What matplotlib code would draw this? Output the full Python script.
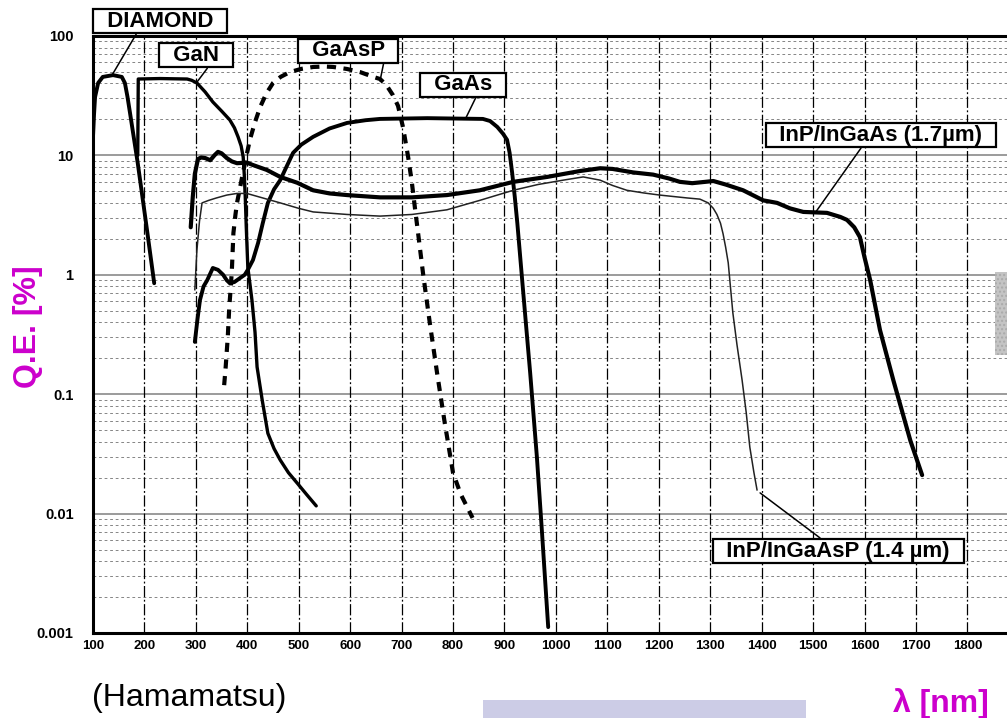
import numpy as np
import matplotlib
matplotlib.use("Agg")
import matplotlib.pyplot as plt
from matplotlib.patches import Rectangle

plt.rcParams['font.family'] = ['Liberation Sans', 'DejaVu Sans']

# wavelengths [nm] and Q.E. [%]
diamond_wl = [100, 102, 104, 110, 119, 139, 156, 162, 167, 172, 187, 205, 219]
diamond_qe = [14.3, 22, 30.8, 40.4, 45.4, 47, 45.4, 40.4, 31, 22.6, 8.6, 2.37, 0.85]

gan_wl = [187, 188, 230, 283, 292, 302, 318, 333, 350, 366, 375, 382, 388, 392, 394, 396, 398,
          401, 409, 415, 419, 429, 440, 452, 464, 480, 497, 515, 534]
gan_qe = [10, 43.6, 44, 43.6, 42.5, 40.4, 34, 28, 23.5, 19.8, 17, 14.3, 12, 9.7, 7, 4.5, 2.5,
          1.16, 0.615, 0.33, 0.169, 0.089, 0.047, 0.035, 0.0281, 0.022, 0.018, 0.0145, 0.0116]

gaasp_wl = [355, 358, 362, 365, 368, 370, 373, 377, 380, 386, 395, 405, 415, 425, 437, 450, 465,
            483, 505, 528, 550, 567, 594, 619, 645, 658, 670, 683, 693, 703, 713, 720, 726, 732,
            742, 755, 769, 784, 800, 815, 838]
gaasp_qe = [0.119, 0.17, 0.3, 0.54, 0.8, 1.1, 2.24, 3.2, 4.0, 5.4, 8.5, 13.5, 19, 25.4, 33, 40.4, 45.5,
            49.9, 53, 55, 55.5, 55, 52.9, 49.9, 45.4, 43.6, 39, 32, 26, 17, 9.5, 5.9, 3.6, 2.24,
            1.0, 0.39, 0.15, 0.057, 0.0219, 0.0145, 0.0092]

gaas_wl = [298, 303, 308, 315, 322, 333, 343, 353, 360, 366, 375, 386, 395, 401, 411, 421, 430, 440,
           452, 464, 476, 489, 505, 528, 560, 594, 630, 658, 750, 820, 858, 872, 886, 897, 905, 910,
           915, 920, 925, 936, 950, 963, 973, 985]
gaas_qe = [0.274, 0.42, 0.615, 0.8, 0.9, 1.14, 1.1, 1.0, 0.9, 0.85, 0.87, 0.94, 1.0, 1.1, 1.33, 1.85, 2.7, 4.0,
           5.2, 6.2, 8.0, 10.5, 12.3, 14.3, 16.8, 18.7, 19.7, 20.2, 20.5, 20.3, 20.2, 19.4, 17.3, 15.2, 13.5, 10.5,
           7.1, 4.5, 2.7, 0.75, 0.15, 0.0298, 0.0069, 0.00112]

ingaas_wl = [290, 294, 298, 304, 310, 318, 328, 336, 343, 350, 360, 370, 380, 399, 411, 425, 438, 464,
             497, 528, 560, 594, 658, 720, 788, 852, 917, 983, 1047, 1086, 1110, 1150, 1189, 1220,
             1241, 1265, 1290, 1306, 1330, 1364, 1403, 1430, 1455, 1481, 1527, 1553, 1566, 1580,
             1591, 1600, 1611, 1630, 1656, 1689, 1712]
ingaas_qe = [2.5, 4.5, 7.0, 9.3, 9.6, 9.5, 9.1, 10.0, 10.7, 10.4, 9.5, 8.9, 8.6, 8.7, 8.3, 7.9, 7.55, 6.6,
             5.9, 5.1, 4.8, 4.65, 4.45, 4.45, 4.65, 5.1, 6.0, 6.6, 7.4, 7.8, 7.7, 7.2, 6.9, 6.4,
             6.0, 5.85, 6.0, 6.1, 5.7, 5.1, 4.2, 4.0, 3.6, 3.36, 3.3, 3.05, 2.88, 2.5,
             2.07, 1.4, 0.90, 0.345, 0.131, 0.041, 0.021]

ingaasp_wl = [298, 302, 307, 312, 325, 340, 360, 380, 399, 430, 464, 500, 528, 594, 658, 720, 788, 852,
              917, 965, 1014, 1053, 1086, 1110, 1138, 1170, 1202, 1255, 1280, 1296, 1306, 1313, 1320,
              1325, 1330, 1335, 1344, 1352, 1362, 1370, 1377, 1385, 1391]
ingaasp_qe = [0.75, 1.6, 2.8, 4.0, 4.2, 4.4, 4.65, 4.8, 4.8, 4.4, 4.0, 3.6, 3.36, 3.2, 3.1, 3.2, 3.5, 4.2,
              5.1, 5.7, 6.2, 6.6, 6.2, 5.6, 5.1, 4.85, 4.65, 4.4, 4.3, 4.0, 3.6, 3.2, 2.7,
              2.2, 1.7, 1.26, 0.48, 0.26, 0.131, 0.07, 0.036, 0.022, 0.0158]

x_ticks = list(range(100, 1900, 100))
y_ticks = [0.001, 0.01, 0.1, 1, 10, 100]
y_labels = ['0.001', '0.01', '0.1', '1', '10', '100']

magenta = '#CC00CC'

fig = plt.figure(figsize=(10.07, 7.18), dpi=100)
ax = fig.add_axes([93 / 1007, 0.1184, 1 - 93 / 1007, 0.8315])
ax.set_yscale('log')
ax.set_xlim(100, 1877)
ax.set_ylim(0.001, 100)

# grid like the printed chart paper
for yv in y_ticks[1:-1]:
    ax.axhline(yv, color='#8a8a8a', lw=1.2, zorder=1)
for dec in [0.001, 0.01, 0.1, 1, 10]:
    for k in range(2, 10):
        ax.axhline(dec * k, color='#555555', lw=0.5, ls=(0, (4, 4)), zorder=1)
for xv in x_ticks[1:] + [1900]:
    ax.axvline(xv, color='black', lw=0.9, ls=(0, (9, 2, 1.5, 2)), zorder=1)

style = dict(color='black', zorder=3, solid_joinstyle='round', solid_capstyle='round')
ax.plot(diamond_wl, diamond_qe, lw=2.8, **style)
ax.plot(gan_wl, gan_qe, lw=2.4, **style)
ax.plot(gaasp_wl, gaasp_qe, color='black', lw=3.0, ls=(0, (2.2, 1.8)), zorder=3)
ax.plot(gaas_wl, gaas_qe, lw=2.8, **style)
ax.plot(ingaas_wl, ingaas_qe, lw=3.0, **style)
ax.plot(ingaasp_wl, ingaasp_qe, color='#222222', lw=1.1, zorder=3)

ax.set_xticks(x_ticks)
ax.set_xticklabels([str(v) for v in x_ticks], fontsize=9.5, fontweight='bold')
ax.set_yticks(y_ticks)
ax.set_yticklabels(y_labels, fontsize=10.5, fontweight='bold')
ax.minorticks_off()
ax.tick_params(axis='both', length=0)
ax.tick_params(axis='y', pad=14)
ax.tick_params(axis='x', pad=5)

for side in ['left', 'top', 'bottom']:
    ax.spines[side].set_linewidth(2.2)
ax.spines['right'].set_visible(False)

# boxed curve labels with leader lines
labels = [
    ('DIAMOND', (137, 47), (230, 133), (0.33, 0)),
    ('GaN', (302, 41), (300, 69), (0.69, 0)),
    ('GaAsP', (658, 42), (596, 75), (0.87, 0)),
    ('GaAs', (825, 20.6), (819, 38.9), (0.67, 0)),
    ('InP/InGaAs (1.7µm)', (1504, 3.3), (1632, 14.8), (0.42, 0)),
    ('InP/InGaAsP (1.4 µm)', (1397, 0.0149), (1549, 0.00486), (0.44, 1)),
]
for txt, xy, xyt, rp in labels:
    ax.annotate('  ' + txt + '  ', xy=xy, xytext=xyt, textcoords='data',
                ha='center', va='center', fontsize=16, fontweight='bold',
                bbox=dict(boxstyle='square,pad=0.08', fc='white', ec='black', lw=1.6),
                arrowprops=dict(arrowstyle='-', color='black', lw=1.1, relpos=rp,
                                shrinkA=0, shrinkB=0),
                annotation_clip=False, zorder=5)

fig.text(0.028, 0.545, 'Q.E. [%]', rotation=90, color=magenta, fontsize=23,
         fontweight='bold', ha='center', va='center')
fig.text(0.934, 1 - 688 / 718, 'λ [nm]', color=magenta, fontsize=23, fontweight='bold',
         ha='center', va='top')
fig.text(0.091, 1 - 683 / 718, '(Hamamatsu)', fontsize=23, ha='left', va='top')

fig.patches.append(Rectangle((483 / 1007, 0), 323 / 1007, 18 / 718,
                             transform=fig.transFigure, fc='#CCCCE6', ec='none'))
fig.patches.append(Rectangle((995 / 1007, 1 - 355 / 718), 12 / 1007, 83 / 718,
                             transform=fig.transFigure, fc='#C4C4C4', ec='#AAAAAA',
                             hatch='....', lw=0))

fig.savefig('out.png', dpi=100)
